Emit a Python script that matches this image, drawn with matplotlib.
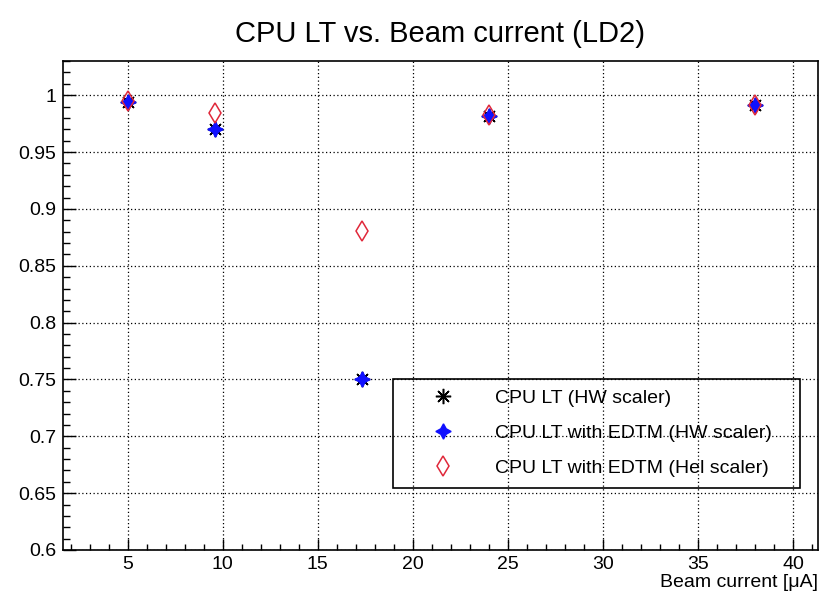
"""CPU live time vs. beam current for the LD2 runs, three live-time estimates."""
import matplotlib
matplotlib.use("Agg")
import matplotlib.pyplot as plt
import matplotlib.ticker as mticker

plt.rcParams["font.family"] = ["Liberation Sans", "DejaVu Sans"]

# beam current [uA] of each run
current = [5.0, 9.6, 17.3, 24.0, 38.0]
# CPU live time estimates
lt_hw = [0.994, 0.970, 0.750, 0.982, 0.991]
lt_edtm_hw = [0.994, 0.970, 0.750, 0.982, 0.991]
lt_edtm_hel = [0.995, 0.984, 0.881, 0.983, 0.991]

labels = [
    "CPU LT (HW scaler)",
    "CPU LT with EDTM (HW scaler)",
    "CPU LT with EDTM (Hel scaler)",
]

fig = plt.figure(figsize=(8.33, 5.94), dpi=100)
ax = fig.add_axes([0.0756, 0.0741, 0.9064, 0.823])

ax.plot(current, lt_hw, ls="none", marker=(8, 2, 0), ms=11, mew=1.1,
        color="black", label=labels[0], zorder=3)
ax.plot(current, lt_edtm_hw, ls="none", marker=(4, 1, 0), ms=11,
        color="#1010ff", mec="#1010ff", label=labels[1], zorder=4)
ax.plot(current, lt_edtm_hel, ls="none", marker="d", ms=10, mew=1.1,
        mfc="none", mec="#e0283a", label=labels[2], zorder=5)

ax.set_xlim(1.6, 41.3)
ax.set_ylim(0.6, 1.03)
ax.xaxis.set_major_locator(mticker.MultipleLocator(5))
ax.xaxis.set_minor_locator(mticker.MultipleLocator(1))
ax.yaxis.set_major_locator(mticker.MultipleLocator(0.05))
ax.yaxis.set_minor_locator(mticker.MultipleLocator(0.01))
ax.yaxis.set_major_formatter(mticker.FuncFormatter(lambda v, _: f"{v:g}"))

ax.tick_params(which="both", direction="in", top=False, right=False,
               labelsize=14, colors="black")
ax.tick_params(axis="y", which="major", length=9, width=1, pad=5)
ax.tick_params(axis="y", which="minor", length=5, width=1)
ax.tick_params(axis="x", which="major", length=8, width=1, pad=4)
ax.tick_params(axis="x", which="minor", length=4, width=1)

ax.grid(which="major", color="black", ls=(0, (1, 2)), lw=0.9)
for sp in ax.spines.values():
    sp.set_linewidth(1.2)

ax.set_title("CPU LT vs. Beam current (LD2)", fontsize=21, pad=14)
ax.set_xlabel("Beam current [\u03bcA]", fontsize=14, loc="right", labelpad=1)

leg = ax.legend(loc="lower left", bbox_to_anchor=(0.437, 0.127, 0.539, 0.225),
                mode="expand", borderaxespad=0, fontsize=14, fancybox=False,
                facecolor="none", edgecolor="black", handlelength=4.05,
                handletextpad=0.65, labelspacing=0.9, borderpad=0.55)
leg.get_frame().set_linewidth(1.2)
leg.get_frame().set_alpha(None)

fig.savefig("out.png", dpi=100)
